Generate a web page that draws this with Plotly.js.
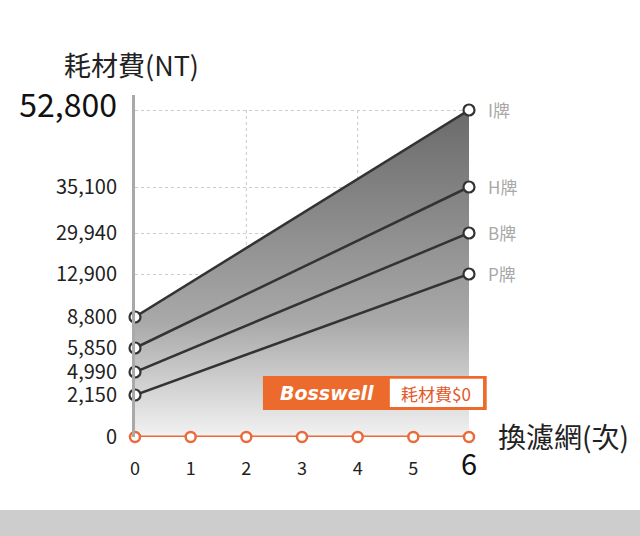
<!DOCTYPE html>
<html>
<head>
<meta charset="utf-8">
<script src="https://cdn.plot.ly/plotly-3.0.1.min.js"></script>
<style>
html,body{margin:0;padding:0;background:#fff;}
#chart{width:640px;height:536px;}
</style>
</head>
<body>
<div id="chart"></div>
<script>
// ---- data ----
const counts = [0, 1, 2, 3, 4, 5, 6];
const brands = ['I牌', 'H牌', 'B牌', 'P牌'];
const costStart = [8800, 5850, 4990, 2150];
const costEnd = [52800, 35100, 29940, 12900];
const bosswellCost = [0, 0, 0, 0, 0, 0, 0];
const yTickValues = [0, 2150, 4990, 5850, 8800, 12900, 29940, 35100, 52800];
// non-linear axis of the original infographic: value -> axis position
const axisStops = [0, 42, 65, 89, 120, 163, 204, 250, 327];

function scaleY(v) {
  for (let i = 1; i < yTickValues.length; i++) {
    if (v <= yTickValues[i]) {
      const a = yTickValues[i - 1], b = yTickValues[i];
      return axisStops[i - 1] + (v - a) / (b - a) * (axisStops[i] - axisStops[i - 1]);
    }
  }
  return axisStops[axisStops.length - 1];
}
const fmt = v => v.toLocaleString('en-US');
const FONT = '"Noto Sans CJK TC", "Noto Sans", sans-serif';
const XMAX = counts[counts.length - 1];
const YTOP = 342;

const traces = [];
brands.forEach((b, i) => {
  const t = {
    x: [counts[0], XMAX],
    y: [scaleY(costStart[i]), scaleY(costEnd[i])],
    mode: 'lines+markers',
    line: {color: '#333333', width: 2.5},
    marker: {symbol: 'circle', size: 11, color: '#ffffff', line: {color: '#333333', width: 2.2}},
    cliponaxis: false,
    hoverinfo: 'skip',
    showlegend: false
  };
  if (i === 0) {
    t.fill = 'tozeroy';
    t.fillgradient = {type: 'vertical', colorscale: [[0, '#f2f2f2'], [0.35, '#a9a9a9'], [1, '#6a6a6a']]};
  }
  traces.push(t);
});
traces.push({
  x: counts,
  y: bosswellCost.map(scaleY),
  mode: 'lines+markers',
  line: {color: '#ea6a3a', width: 3},
  marker: {symbol: 'circle', size: 10, color: '#ffffff', line: {color: '#ea6a3a', width: 2.5}},
  cliponaxis: false,
  hoverinfo: 'skip',
  showlegend: false
});

const yTickText = yTickValues.map((v, i) =>
  i === yTickValues.length - 1 ? '<span style="font-size:32px;color:#111">' + fmt(v) + '</span>' : fmt(v));
const xTickText = counts.map((c, i) =>
  i === counts.length - 1 ? '<span style="font-size:29px;color:#111">' + c + '</span>' : String(c));

const annotations = [];
brands.forEach((b, i) => {
  annotations.push({
    x: XMAX, y: scaleY(costEnd[i]), xref: 'x', yref: 'y',
    text: b, showarrow: false, xanchor: 'left', yanchor: 'middle', xshift: 17, yshift: 1,
    font: {family: FONT, size: 17, color: '#a8a8a8'}
  });
});
annotations.push({
  x: 0, y: YTOP, xref: 'x', yref: 'y', text: '耗材費(NT)', showarrow: false,
  xanchor: 'center', yanchor: 'bottom', yshift: 9, xshift: -4,
  font: {family: FONT, size: 27, color: '#222'}
});
annotations.push({
  x: XMAX, y: 0, xref: 'x', yref: 'y', text: '換濾網(次)', showarrow: false,
  xanchor: 'left', yanchor: 'middle', xshift: 27, yshift: 1,
  font: {family: FONT, size: 28, color: '#222'}
});
annotations.push({
  x: 3.45, y: 44, xref: 'x', yref: 'y', text: 'Bosswell', showarrow: false,
  xanchor: 'center', yanchor: 'middle',
  font: {family: '"DejaVu Sans", sans-serif', size: 19, color: '#ffffff', weight: 'bold', style: 'italic'}
});
annotations.push({
  x: 5.41, y: 44, xref: 'x', yref: 'y', text: '耗材費$0', showarrow: false,
  xanchor: 'center', yanchor: 'middle',
  font: {family: FONT, size: 17, color: '#e4572a'}
});

const shapes = [];
[2, 4, 6].forEach(xv => shapes.push({
  type: 'line', xref: 'x', yref: 'y', x0: xv, x1: xv, y0: 0, y1: scaleY(costEnd[0]),
  line: {color: '#c8c8c8', width: 1, dash: '3px,3px'}, layer: 'below'
}));
// badge (paper coordinates so it is not clipped at the plot edge)
shapes.push({type: 'rect', xref: 'paper', yref: 'paper', x0: 0.383, x1: 1.053, y0: 0.079, y1: 0.178,
  fillcolor: '#ec6b2c', line: {width: 0}, layer: 'above'});
shapes.push({type: 'rect', xref: 'paper', yref: 'paper', x0: 0.763, x1: 1.042, y0: 0.088, y1: 0.170,
  fillcolor: '#ffffff', line: {width: 0}, layer: 'above'});
shapes.push({type: 'rect', xref: 'paper', yref: 'paper', x0: -0.41, x1: 1.52, y0: -0.2895, y1: -0.2135,
  fillcolor: '#cdcdcd', line: {width: 0}, layer: 'below'});

const layout = {
  width: 640, height: 536,
  margin: {l: 135, r: 171, t: 95, b: 99},
  paper_bgcolor: '#ffffff', plot_bgcolor: '#ffffff',
  font: {family: FONT, color: '#222'},
  xaxis: {
    range: [0, XMAX], tickmode: 'array', tickvals: counts, ticktext: xTickText,
    showgrid: false, zeroline: false, showline: false, ticks: '',
    ticklabelstandoff: 19,
    tickfont: {family: FONT, size: 18, color: '#222'}, fixedrange: true
  },
  yaxis: {
    range: [0, YTOP], tickmode: 'array', tickvals: yTickValues.map(scaleY), ticktext: yTickText,
    showgrid: true, gridcolor: '#cccccc', griddash: '3px,3px', gridwidth: 1,
    zeroline: false, showline: true, linecolor: '#a9a9a9', linewidth: 3, ticks: '',
    ticklabelstandoff: 11,
    tickfont: {family: FONT, size: 20, color: '#222'}, fixedrange: true
  },
  annotations: annotations,
  shapes: shapes
};

Plotly.newPlot('chart', traces, layout, {displayModeBar: false, staticPlot: true});
</script>
</body>
</html>
